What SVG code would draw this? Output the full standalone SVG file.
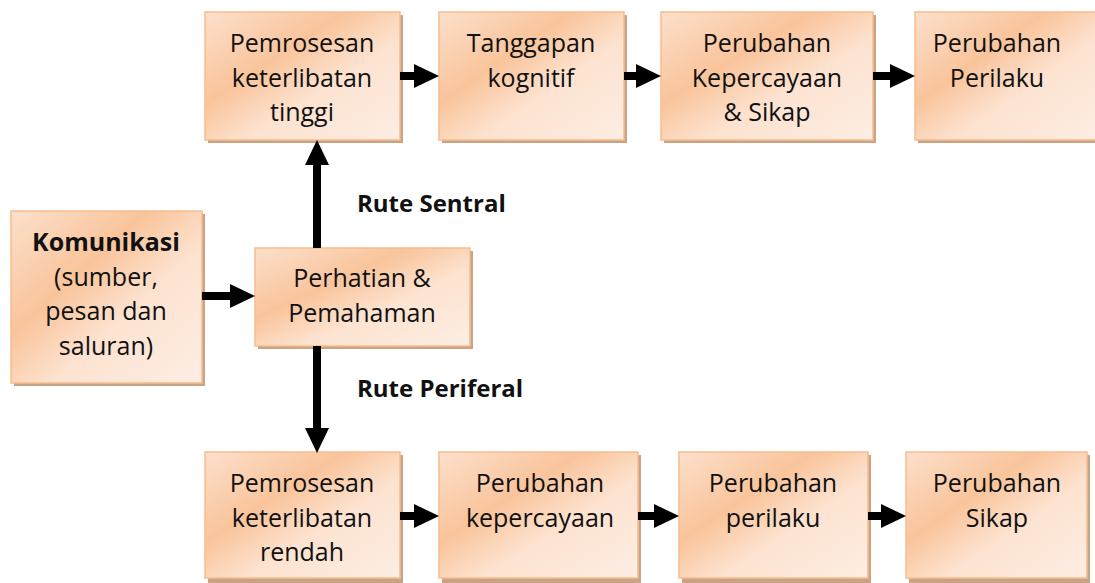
<svg xmlns="http://www.w3.org/2000/svg" width="1095" height="583" viewBox="0 0 1095 583">
<defs>
<linearGradient id="g" x1="0" y1="0" x2="1" y2="1">
<stop offset="0" stop-color="#fce0cc"/>
<stop offset="0.36" stop-color="#f9c49b"/>
<stop offset="0.6" stop-color="#fde2cf"/>
<stop offset="1" stop-color="#fdeee4"/>
</linearGradient>
<marker id="ah" markerUnits="userSpaceOnUse" markerWidth="25" markerHeight="24" viewBox="0 0 25 24" refX="0" refY="12" orient="auto">
<path d="M0,0 L25,12 L0,24 Z" fill="#000"/>
</marker>
<style>
.sh{fill:#c9a384}
.bx{fill:url(#g);stroke:#f7bd8e;stroke-width:1.5}
.t{font-family:"Open Sans","Liberation Sans",sans-serif;font-size:25px;fill:#111;text-anchor:middle}
.b{font-weight:bold}
.lb{font-family:"Open Sans","Liberation Sans",sans-serif;font-size:24px;font-weight:bold;fill:#111}
.c{stroke:#000;stroke-width:8;fill:none;marker-end:url(#ah)}
</style>
</defs>
<rect width="1095" height="583" fill="#fff"/>

<g id="n_high">
<rect class="sh" x="208" y="15" width="195" height="128"/>
<rect class="bx" x="205" y="12" width="195" height="128"/>
<text class="t" x="302" y="52">Pemrosesan</text>
<text class="t" x="302" y="87">keterlibatan</text>
<text class="t" x="302" y="121">tinggi</text>
</g>
<g id="n_kognitif">
<rect class="sh" x="442" y="15" width="185" height="128"/>
<rect class="bx" x="439" y="12" width="185" height="128"/>
<text class="t" x="531" y="52">Tanggapan</text>
<text class="t" x="531" y="87">kognitif</text>
</g>
<g id="n_kepsikap">
<rect class="sh" x="664" y="15" width="212" height="128"/>
<rect class="bx" x="661" y="12" width="212" height="128"/>
<text class="t" x="767" y="52">Perubahan</text>
<text class="t" x="767" y="87">Kepercayaan</text>
<text class="t" x="767" y="121">&amp; Sikap</text>
</g>
<g id="n_perilaku_top">
<rect class="sh" x="918" y="15" width="180" height="128"/>
<rect class="bx" x="915" y="12" width="182" height="128"/>
<text class="t" x="997" y="52">Perubahan</text>
<text class="t" x="997" y="87">Perilaku</text>
</g>

<g id="n_komunikasi">
<rect class="sh" x="14" y="214" width="191" height="172"/>
<rect class="bx" x="11" y="211" width="191" height="172"/>
<text class="t b" x="106" y="251">Komunikasi</text>
<text class="t" x="106" y="286">(sumber,</text>
<text class="t" x="106" y="320">pesan dan</text>
<text class="t" x="106" y="355">saluran)</text>
</g>
<g id="n_perhatian">
<rect class="sh" x="258" y="251" width="215" height="98"/>
<rect class="bx" x="255" y="248" width="215" height="98"/>
<text class="t" x="362" y="287">Perhatian &amp;</text>
<text class="t" x="362" y="322">Pemahaman</text>
</g>

<g id="n_low">
<rect class="sh" x="208" y="455" width="195" height="128"/>
<rect class="bx" x="205" y="452" width="195" height="126"/>
<text class="t" x="302" y="492">Pemrosesan</text>
<text class="t" x="302" y="527">keterlibatan</text>
<text class="t" x="302" y="561">rendah</text>
</g>
<g id="n_kep_bottom">
<rect class="sh" x="442" y="455" width="199" height="128"/>
<rect class="bx" x="439" y="452" width="199" height="126"/>
<text class="t" x="540" y="492">Perubahan</text>
<text class="t" x="540" y="527">kepercayaan</text>
</g>
<g id="n_perilaku_bottom">
<rect class="sh" x="682" y="455" width="189" height="128"/>
<rect class="bx" x="679" y="452" width="189" height="126"/>
<text class="t" x="773" y="492">Perubahan</text>
<text class="t" x="773" y="527">perilaku</text>
</g>
<g id="n_sikap_bottom">
<rect class="sh" x="909" y="455" width="181" height="128"/>
<rect class="bx" x="906" y="452" width="181" height="126"/>
<text class="t" x="997" y="492">Perubahan</text>
<text class="t" x="997" y="527">Sikap</text>
</g>

<g id="connectors">
<line class="c" x1="400" y1="76" x2="414" y2="76"/>
<line class="c" x1="624" y1="76" x2="636" y2="76"/>
<line class="c" x1="873" y1="76" x2="890" y2="76"/>
<line class="c" x1="202" y1="296" x2="230" y2="296"/>
<line class="c" x1="317" y1="248" x2="317" y2="165"/>
<line class="c" x1="317" y1="346" x2="317" y2="428"/>
<line class="c" x1="400" y1="516" x2="414" y2="516"/>
<line class="c" x1="638" y1="516" x2="654" y2="516"/>
<line class="c" x1="868" y1="516" x2="881" y2="516"/>
</g>

<g id="labels">
<text class="lb" x="357" y="212">Rute Sentral</text>
<text class="lb" x="357" y="397">Rute Periferal</text>
</g>
</svg>
